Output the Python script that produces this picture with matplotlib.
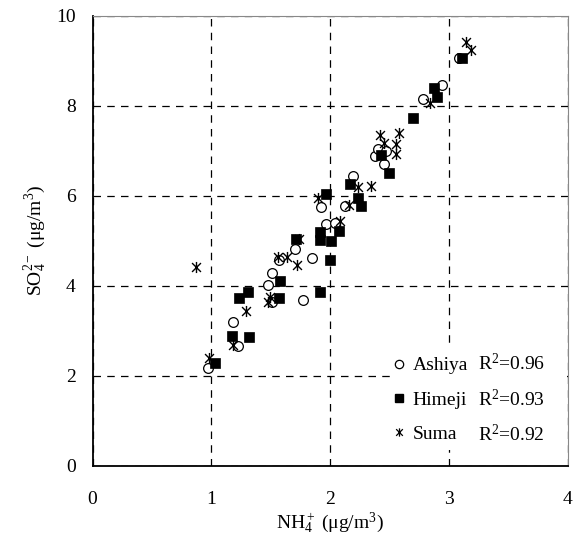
import matplotlib
matplotlib.use("Agg")
import matplotlib.pyplot as plt
from matplotlib.lines import Line2D
from matplotlib.path import Path
from matplotlib.patches import Rectangle

plt.rcParams['font.family'] = ['Liberation Serif', 'DejaVu Serif']
plt.rcParams['mathtext.fontset'] = 'custom'
plt.rcParams['mathtext.rm'] = 'Liberation Serif'
plt.rcParams['mathtext.it'] = 'Liberation Serif:italic'
plt.rcParams['mathtext.bf'] = 'Liberation Serif:bold'

# Data
ashiya_x = [0.97, 1.18, 1.22, 1.48, 1.51, 1.51, 1.57, 1.70, 1.77, 1.85, 1.92, 1.96, 2.04, 2.12,
            2.19, 2.38, 2.40, 2.47, 2.45, 2.78, 2.94, 3.08]
ashiya_y = [2.18, 3.19, 2.66, 4.01, 4.27, 3.64, 4.57, 4.82, 3.67, 4.61, 5.74, 5.37, 5.40, 5.76,
            6.44, 6.88, 7.03, 6.98, 6.70, 8.14, 8.46, 9.05]

himeji_x = [1.03, 1.17, 1.32, 1.23, 1.31, 1.58, 1.57, 1.91, 1.71, 1.91, 1.91, 2.00, 2.01, 2.07,
            1.96, 2.17, 2.23, 2.26, 2.43, 2.49, 2.70, 2.87, 2.90, 3.11]
himeji_y = [2.27, 2.88, 2.85, 3.73, 3.85, 4.10, 3.73, 3.85, 5.03, 5.20, 5.02, 4.56, 5.00, 5.22,
            6.04, 6.26, 5.94, 5.77, 6.90, 6.50, 7.73, 8.39, 8.19, 9.05]

suma_x = [0.87, 0.98, 1.18, 1.29, 1.49, 1.48, 1.56, 1.64, 1.72, 1.74, 1.90, 2.08, 2.16, 2.23,
          2.34, 2.42, 2.45, 2.58, 2.55, 2.55, 2.84, 3.14, 3.18]
suma_y = [4.42, 2.39, 2.67, 3.44, 3.75, 3.63, 4.64, 4.63, 4.45, 5.04, 5.94, 5.43, 5.78, 6.18,
          6.22, 7.35, 7.16, 7.39, 7.15, 6.93, 8.05, 9.42, 9.24]

site_names = ["Ashiya", "Himeji", "Suma"]
r2_values = [0.96, 0.93, 0.92]

x_ticks = [0, 1, 2, 3, 4]
y_ticks = [0, 2, 4, 6, 8, 10]

# asterisk marker: X plus vertical bar
star_marker = Path([(0, -1), (0, 1), (-0.8, -0.8), (0.8, 0.8), (-0.8, 0.8), (0.8, -0.8)],
                   [Path.MOVETO, Path.LINETO] * 3)

fig = plt.figure(figsize=(5.79, 5.43), dpi=100)
ax = fig.add_axes([0.1598, 0.1424, 0.8212, 0.829])

ax.plot(ashiya_x, ashiya_y, linestyle='none', marker='o', markersize=7,
        markerfacecolor='white', markeredgecolor='black', markeredgewidth=0.9, zorder=3)
ax.plot(himeji_x, himeji_y, linestyle='none', marker='s', markersize=7,
        markerfacecolor='black', markeredgecolor='black', markeredgewidth=0.5, zorder=3)
ax.plot(suma_x, suma_y, linestyle='none', marker=star_marker, markersize=8,
        markerfacecolor='none', markeredgecolor='black', markeredgewidth=1.0, zorder=4)

ax.set_xlim(0, 4)
ax.set_ylim(0, 10)
ax.set_xticks(x_ticks)
ax.set_yticks(y_ticks)
ax.set_xticklabels([str(v) for v in x_ticks])
ax.set_yticklabels([str(v) for v in y_ticks])
ax.tick_params(axis='both', length=0, labelsize=14)
ax.tick_params(axis='x', pad=18)
ax.tick_params(axis='y', pad=12)

ax.grid(True, color='black', linestyle=(0, (6, 5)), linewidth=0.9)
ax.set_axisbelow(True)
for s in ['left', 'bottom']:
    ax.spines[s].set_color('black')
    ax.spines[s].set_linewidth(1.3)
for s in ['top', 'right']:
    ax.spines[s].set_color('#888888')
    ax.spines[s].set_linewidth(0.8)

ax.set_xlabel(r'NH$_4^+$ (μg/m$^3$)', fontsize=14, labelpad=2)
ax.set_ylabel(r'SO$_4^{2-}$ (μg/m$^3$)', fontsize=14, labelpad=6)

# white background behind legend block (hides gridlines as in reference)
ax.add_patch(Rectangle((0.632, 0.035), 0.366, 0.229, transform=ax.transAxes,
                       facecolor='white', edgecolor='none', zorder=2))

handles = [
    Line2D([], [], linestyle='none', marker='o', markersize=6, markerfacecolor='white',
           markeredgecolor='black', markeredgewidth=0.9),
    Line2D([], [], linestyle='none', marker='s', markersize=6, markerfacecolor='black',
           markeredgecolor='black'),
    Line2D([], [], linestyle='none', marker=star_marker, markersize=6, markerfacecolor='none',
           markeredgecolor='black', markeredgewidth=0.9),
]
leg = ax.legend(handles, site_names, loc='center left', bbox_to_anchor=(0.62, 0.146),
                frameon=False, fontsize=14, handlelength=0.8, handletextpad=0.3,
                labelspacing=0.86, borderpad=0.2, borderaxespad=0)

row_y = [0.226, 0.146, 0.070]
for yy, r2 in zip(row_y, r2_values):
    ax.text(0.811, yy, r'R$^2$=' + f'{r2:.2f}', transform=ax.transAxes, fontsize=14,
            va='center', ha='left', zorder=5)

fig.savefig('out.png', dpi=100)
